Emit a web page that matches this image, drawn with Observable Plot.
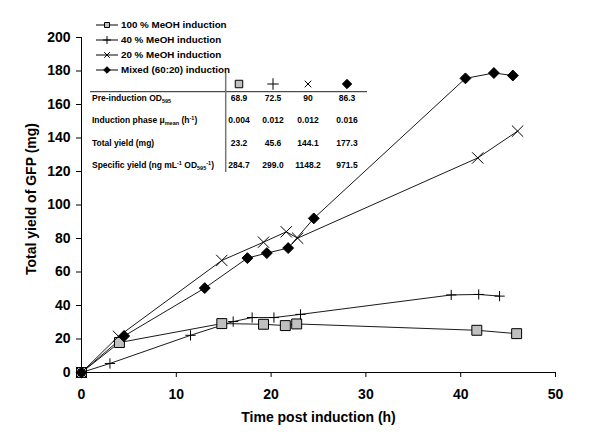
<!DOCTYPE html>
<html><head><meta charset="utf-8">
<script src="https://cdn.jsdelivr.net/npm/d3@7"></script>
<script src="https://cdn.jsdelivr.net/npm/@observablehq/plot@0.6"></script>
<style>body{margin:0;background:#fff} svg{font-family:"Liberation Sans",Arial,sans-serif}</style>
</head><body><div id="chart"></div>
<script>
const series = ["100 % MeOH induction", "40 % MeOH induction", "20 % MeOH induction", "Mixed (60:20) induction"];
const time100 = [0, 4.0, 14.8, 19.2, 21.5, 22.7, 41.7, 45.9];
const yield100 = [0, 17.9, 29.2, 28.8, 28.0, 29.0, 25.2, 23.2];
const time40 = [0, 3.0, 11.5, 16.0, 18.0, 20.3, 23.1, 39.0, 41.9, 44.1];
const yield40 = [0, 5.4, 22.2, 30.4, 32.8, 32.8, 34.7, 46.3, 46.6, 45.6];
const time20 = [0, 3.9, 14.8, 19.2, 21.6, 22.8, 41.8, 46.0];
const yield20 = [0, 21.6, 66.9, 77.8, 84.0, 80.2, 128.1, 144.1];
const timeMix = [0, 4.5, 13.0, 17.5, 19.55, 21.8, 24.5, 40.5, 43.5, 45.5];
const yieldMix = [0, 21.8, 50.4, 68.3, 71.3, 74.3, 92.0, 175.6, 178.8, 177.3];

const xTicks = [0, 10, 20, 30, 40, 50];
const yTicks = [0, 20, 40, 60, 80, 100, 120, 140, 160, 180, 200];

const rowLabels = [
  [["Pre-induction OD", ""], ["595", "sub"]],
  [["Induction phase μ", ""], ["mean", "sub"], [" (h", ""], ["-1", "sup"], [")", ""]],
  [["Total yield (mg)", ""]],
  [["Specific yield (ng mL", ""], ["-1", "sup"], [" OD", ""], ["595", "sub"], ["-1", "sup"], [")", ""]]
];
const preOD = ["68.9", "72.5", "90", "86.3"];
const muMean = ["0.004", "0.012", "0.012", "0.016"];
const totalYield = ["23.2", "45.6", "144.1", "177.3"];
const specificYield = ["284.7", "299.0", "1148.2", "971.5"];
const tableValues = [preOD, muMean, totalYield, specificYield];

const pairs = [[time100, yield100], [time40, yield40], [time20, yield20], [timeMix, yieldMix]];
const data = pairs.flatMap(([t, v], i) => t.map((x, j) => ({series: series[i], time: x, yield: v[j]})));
const of = (i) => data.filter(d => d.series === series[i]);

const styles = [
  {symbol: "square", r: 5.6, fill: "#c0c0c0", stroke: "#000", strokeWidth: 1},
  {symbol: "plus", r: 3.4, fill: "none", stroke: "#000", strokeWidth: 1},
  {symbol: "times", r: 5.2, fill: "none", stroke: "#000", strokeWidth: 1},
  {symbol: "diamond2", r: 4.9, fill: "#000", stroke: "#000", strokeWidth: 1}
];

const chart = Plot.plot({
  width: 600, height: 448,
  marginLeft: 81, marginRight: 45, marginTop: 37, marginBottom: 76,
  style: {fontFamily: "Liberation Sans, Arial, sans-serif", fontSize: "14px", fontWeight: "bold", background: "#fff"},
  x: {domain: [0, 50]},
  y: {domain: [0, 200]},
  marks: [
    Plot.axisX({ticks: xTicks, tickSize: 5, tickPadding: 12, label: null, fontSize: 14, fontWeight: "bold"}),
    Plot.axisY({ticks: yTicks, tickSize: 5, tickPadding: 6, label: null, fontSize: 14, fontWeight: "bold"}),
    Plot.ruleX([0], {stroke: "#000", strokeWidth: 1}),
    Plot.ruleY([0], {stroke: "#000", strokeWidth: 1}),
    Plot.line(data, {x: "time", y: "yield", z: "series", stroke: "#1a1a1a", strokeWidth: 1}),
    ...styles.map((s, i) => Plot.dot(of(i), {x: "time", y: "yield", ...s})),
    Plot.text(["Time post induction (h)"], {frameAnchor: "bottom", textAnchor: "middle", lineAnchor: "middle", dy: 45, fontSize: 14, fontWeight: "bold", fill: "#000"}),
    Plot.text(["Total yield of GFP (mg)"], {frameAnchor: "left", textAnchor: "middle", lineAnchor: "middle", dx: -50, dy: -6, rotate: -90, fontSize: 14, fontWeight: "bold", fill: "#000"})
  ]
});
document.getElementById("chart").appendChild(chart);

const svg = d3.select(chart);
const symTypes = [d3.symbolSquare, d3.symbolPlus, d3.symbolTimes, d3.symbolDiamond2];
const symFill = ["#c0c0c0", "none", "none", "#000"];

// legend
const lg = svg.append("g").attr("font-size", 9.8).attr("font-weight", "bold").attr("text-anchor", "start");
series.forEach((s, i) => {
  const y = 25 + 15 * i;
  lg.append("line").attr("x1", 96).attr("x2", 118).attr("y1", y).attr("y2", y).attr("stroke", "#000");
  lg.append("path").attr("transform", `translate(107,${y})`)
    .attr("d", d3.symbol(symTypes[i], [25, 22, 22, 28][i])())
    .attr("fill", symFill[i]).attr("stroke", "#000");
  lg.append("text").attr("x", 121).attr("y", y).attr("dy", "0.35em").attr("text-anchor", "start").text(s);
});

// table
const tg = svg.append("g").attr("font-size", 8.5).attr("font-weight", "bold").attr("text-anchor", "start");
tg.append("line").attr("x1", 90).attr("x2", 367).attr("y1", 91.7).attr("y2", 91.7).attr("stroke", "#222");
tg.append("line").attr("x1", 225.7).attr("x2", 225.7).attr("y1", 73).attr("y2", 172).attr("stroke", "#777").attr("stroke-width", 1.5);
const colX = [239, 273, 308, 347];
const rowY = [98.3, 120, 142.7, 165];
colX.forEach((x, i) => {
  tg.append("path").attr("transform", `translate(${x},84)`)
    .attr("d", d3.symbol(symTypes[i], [56, 45, 30, 56][i])())
    .attr("fill", symFill[i]).attr("stroke", "#000").attr("stroke-width", 1);
});
rowLabels.forEach((parts, r) => {
  const t = tg.append("text").attr("x", 92).attr("y", rowY[r]).attr("dy", "0.35em").attr("text-anchor", "start");
  parts.forEach(([txt, kind]) => {
    const sp = t.append("tspan").text(txt);
    if (kind === "sub") sp.attr("font-size", 5.5).attr("baseline-shift", "-2");
    if (kind === "sup") sp.attr("font-size", 5.5).attr("baseline-shift", "3");
  });
  tableValues[r].forEach((v, c) => {
    tg.append("text").attr("x", colX[c]).attr("y", rowY[r]).attr("dy", "0.35em").attr("text-anchor", "middle").text(v);
  });
});
</script></body></html>
